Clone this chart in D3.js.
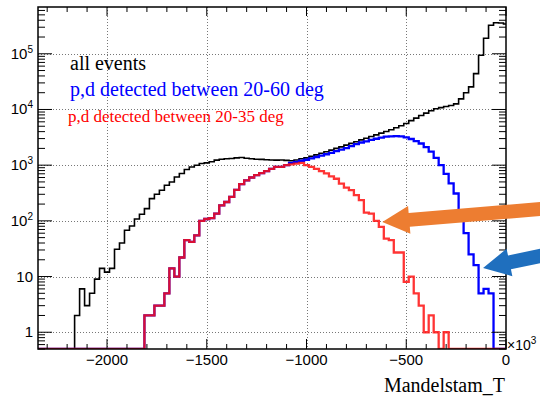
<!DOCTYPE html>
<html>
<head>
<meta charset="utf-8">
<script src="https://cdn.jsdelivr.net/npm/d3@7"></script>
<style>
  body { margin: 0; background: #fff; }
  svg { display: block; }
</style>
</head>
<body>
<svg id="chart" width="540" height="398"></svg>
<script>
// histogram bins: 25 wide, first bin starts at -2362.5
const binLow = -2362.5;
const binWidth = 25;

const allEvents = [
  0, 0, 0, 0, 0, 0, 0, 0, 2, 6,
  3, 5, 9, 14, 12, 14, 31, 40, 68, 81,
  108, 131, 166, 251, 300, 355, 437, 500, 614, 707,
  834, 929, 996, 1070, 1100, 1150, 1230, 1280, 1300, 1320,
  1350, 1370, 1330, 1300, 1280, 1270, 1250, 1240, 1230, 1240,
  1220, 1200, 1240, 1300, 1350, 1440, 1530, 1640, 1740, 1860,
  2000, 2130, 2290, 2460, 2640, 2850, 3050, 3280, 3500, 3760,
  4020, 4330, 4700, 5100, 5600, 6300, 7000, 7800, 8600, 9500,
  10300, 10800, 11300, 11800, 12600, 15500, 20000, 25500, 44000, 94000,
  190000, 325000, 360000, 358000, 342000
];

const detected2060 = [
  0, 0, 0, 0, 0, 0, 0, 0, 0, 0,
  0, 0, 0, 0, 0, 0, 0, 0, 0, 0,
  0, 0, 2, 2, 3, 3, 5, 14, 10, 22,
  45, 42, 55, 100, 108, 112, 135, 190, 218, 270,
  360, 455, 535, 600, 660, 720, 780, 860, 930, 930,
  1000, 1100, 1150, 1200, 1250, 1320, 1400, 1480, 1570, 1660,
  1780, 1900, 2030, 2200, 2380, 2550, 2680, 2850, 2980, 3120,
  3250, 3300, 3320, 3280, 3150, 2950, 2700, 2450, 2100, 1750,
  1350, 1000, 700, 470, 310, 110, 60, 25, 16, 5,
  6, 5, 0, 0, 0
];

const detected2035 = [
  0, 0, 0, 0, 0, 0, 0, 0, 0, 0,
  0, 0, 0, 0, 0, 0, 0, 0, 0, 0,
  0, 0, 2, 2, 3, 3, 5, 14, 10, 22,
  45, 42, 55, 100, 108, 112, 135, 190, 218, 270,
  360, 455, 535, 600, 660, 720, 780, 860, 930, 930,
  1000, 1030, 1070, 1100, 1000, 930, 860, 780, 710, 630,
  570, 465, 395, 355, 290, 235, 140, 135, 100, 78,
  48, 45, 27, 27, 8, 10, 5, 3, 1, 2,
  1, 0, 1, 0, 0, 0, 0, 0, 0, 0,
  0, 0, 0, 0, 0
];

const xTicks = [-2000, -1500, -1000, -500, 0];
const xTickLabels = ["\u22122000", "\u22121500", "\u22121000", "\u2212500", "0"];
const yTicks = [1, 10, 100, 1000, 10000, 100000];
const yExponents = [null, null, 2, 3, 4, 5];

const legend = [
  { text: "all events", color: "#000000" },
  { text: "p,d detected between 20-60 deg", color: "#0000ff" },
  { text: "p,d detected between 20-35 deg", color: "#ff0000" }
];

// annotation arrows, tip and tail in data units
const arrows = [
  { tip: [-620, 95], tail: [195, 166], color: "#ed7d31" },
  { tip: [-115, 14.2], tail: [195, 24.4], color: "#1f6fbe" }
];

const svg = d3.select("#chart");
const pLeft = 38, pRight = 506, pTop = 7, pBottom = 349;

const x = d3.scaleLinear().domain([-2346, 0]).range([pLeft, pRight]);
const y = d3.scaleLog().domain([0.5, Math.pow(10, 5.84)]).range([pBottom, pTop]);

const sans = "'Liberation Sans', Arial, Helvetica, sans-serif";
const serif = "'Liberation Serif', 'Times New Roman', serif";

svg.append("defs").append("clipPath").attr("id", "plotClip")
  .append("rect").attr("x", pLeft).attr("y", pTop - 2)
  .attr("width", pRight - pLeft).attr("height", pBottom - pTop + 2);

// grid
const grid = svg.append("g")
  .attr("stroke", "#777")
  .attr("stroke-width", 1)
  .attr("stroke-dasharray", "1,2");
grid.selectAll(".gx").data(xTicks.filter(d => d !== 0)).enter().append("line")
  .attr("x1", d => Math.round(x(d)) + 0.5).attr("x2", d => Math.round(x(d)) + 0.5)
  .attr("y1", pTop).attr("y2", pBottom);
grid.selectAll(".gy").data(yTicks).enter().append("line")
  .attr("y1", d => Math.round(y(d)) + 0.5).attr("y2", d => Math.round(y(d)) + 0.5)
  .attr("x1", pLeft).attr("x2", pRight);

// histograms
function histPoints(values) {
  const pts = [];
  values.forEach((v, i) => {
    const x0 = x(binLow + i * binWidth), x1 = x(binLow + (i + 1) * binWidth);
    const yy = v > 0 ? y(v) : pBottom;
    pts.push([x0, yy], [x1, yy]);
  });
  return pts;
}
const line = d3.line();
const plot = svg.append("g").attr("clip-path", "url(#plotClip)").attr("fill", "none");
plot.append("path").attr("d", line(histPoints(allEvents)))
  .attr("stroke", "#000").attr("stroke-width", 1.6);
plot.append("path").attr("d", line(histPoints(detected2060)))
  .attr("stroke", "#0000ff").attr("stroke-width", 2.3);
plot.append("path").attr("d", line(histPoints(detected2035)))
  .attr("stroke", "#ff1010").attr("stroke-opacity", 0.85).attr("stroke-width", 2.3);

// frame
svg.append("rect").attr("x", pLeft).attr("y", pTop)
  .attr("width", pRight - pLeft).attr("height", pBottom - pTop)
  .attr("fill", "none").attr("stroke", "#000").attr("stroke-width", 1.5);

// x ticks (bottom and top, inside)
const axes = svg.append("g").attr("stroke", "#000").attr("stroke-width", 1);
const xMinor = d3.range(-2300, 1, 100);
axes.selectAll(".xt").data(xMinor).enter().append("line")
  .attr("x1", d => x(d)).attr("x2", d => x(d))
  .attr("y1", pBottom).attr("y2", d => pBottom - (d % 500 === 0 ? 10 : 5));
axes.selectAll(".xtt").data(xMinor).enter().append("line")
  .attr("x1", d => x(d)).attr("x2", d => x(d))
  .attr("y1", pTop).attr("y2", d => pTop + (d % 500 === 0 ? 9 : 5));

// y ticks (log), left and right
const yMinor = [];
for (let e = -1; e <= 5; e++) {
  for (let m = 1; m <= 9; m++) {
    const v = m * Math.pow(10, e);
    if (v >= 0.5 && v <= y.domain()[1]) yMinor.push({ v: v, major: m === 1 });
  }
}
axes.selectAll(".yt").data(yMinor).enter().append("line")
  .attr("y1", d => y(d.v)).attr("y2", d => y(d.v))
  .attr("x1", pLeft).attr("x2", d => pLeft + (d.major ? 14 : 7));
axes.selectAll(".ytr").data(yMinor).enter().append("line")
  .attr("y1", d => y(d.v)).attr("y2", d => y(d.v))
  .attr("x1", pRight).attr("x2", d => pRight - (d.major ? 14 : 7));

// x tick labels
svg.selectAll(".xl").data(xTicks).enter().append("text")
  .attr("x", d => x(d)).attr("y", 365)
  .attr("text-anchor", "middle")
  .attr("font-family", sans).attr("font-size", 15)
  .text((d, i) => xTickLabels[i]);

// y tick labels
const yl = svg.selectAll(".yl").data(yTicks).enter().append("text")
  .attr("x", 33).attr("y", d => y(d) + 5)
  .attr("text-anchor", "end")
  .attr("font-family", sans).attr("font-size", 15);
yl.each(function (d, i) {
  const t = d3.select(this);
  if (yExponents[i] === null) {
    t.text(String(d));
  } else {
    t.append("tspan").text("10");
    t.append("tspan").attr("font-size", 10).attr("dy", -6).text(yExponents[i]);
  }
});

// x10^3 multiplier
const mult = svg.append("text").attr("x", 507).attr("y", 350)
  .attr("font-family", sans).attr("font-size", 14);
mult.append("tspan").text("\u00d710");
mult.append("tspan").attr("font-size", 10).attr("dy", -6).text("3");

// axis title
svg.append("text").attr("x", 505).attr("y", 392)
  .attr("text-anchor", "end")
  .attr("font-family", serif).attr("font-size", 20)
  .text("Mandelstam_T");

// legend
const legendY = [70, 96, 122];
const legendSize = [20, 20, 17];
svg.selectAll(".leg").data(legend).enter().append("text")
  .attr("x", (d, i) => i === 2 ? 68 : 70)
  .attr("y", (d, i) => legendY[i])
  .attr("font-family", serif)
  .attr("font-size", (d, i) => legendSize[i])
  .attr("fill", d => d.color)
  .text(d => d.text);

// arrows
function arrowPath(a) {
  const tx = x(a.tip[0]), ty = y(a.tip[1]);
  const sx = x(a.tail[0]), sy = y(a.tail[1]);
  const len = Math.hypot(sx - tx, sy - ty);
  const ux = (sx - tx) / len, uy = (sy - ty) / len;
  const nx = -uy, ny = ux;
  const head = 27, hw = 14, sw = 7;
  const bx = tx + ux * head, by = ty + uy * head;
  const p = [
    [tx, ty],
    [bx + nx * hw, by + ny * hw],
    [bx + nx * sw, by + ny * sw],
    [sx + nx * sw, sy + ny * sw],
    [sx - nx * sw, sy - ny * sw],
    [bx - nx * sw, by - ny * sw],
    [bx - nx * hw, by - ny * hw]
  ];
  return "M" + p.map(q => q.join(",")).join("L") + "Z";
}
svg.selectAll(".arrow").data(arrows).enter().append("path")
  .attr("d", arrowPath)
  .attr("fill", d => d.color);
</script>
</body>
</html>
